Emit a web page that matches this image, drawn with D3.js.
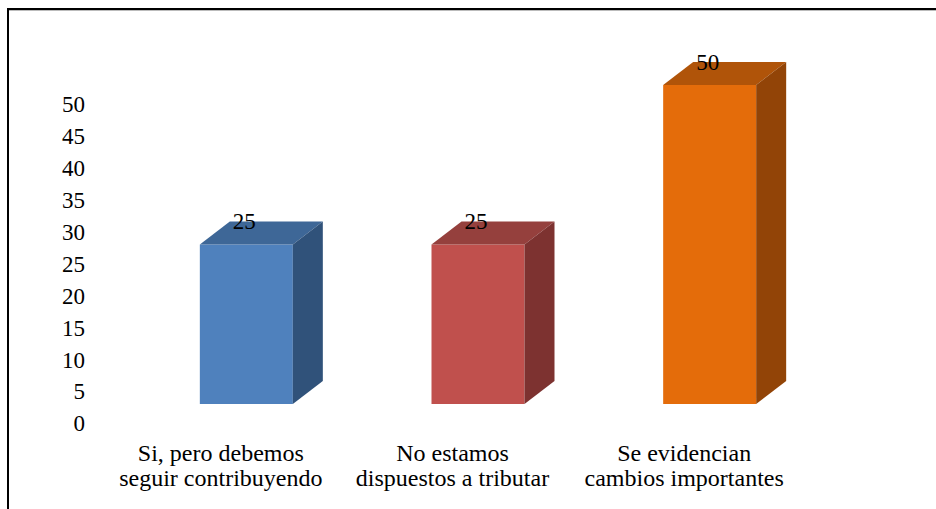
<!DOCTYPE html>
<html>
<head>
<meta charset="utf-8">
<script src="https://cdn.jsdelivr.net/npm/d3@7"></script>
<style>
html,body{margin:0;padding:0;background:#fff;}
svg{display:block;}
</style>
</head>
<body>
<script>
const categories = [["Si, pero debemos","seguir contribuyendo"],["No estamos","dispuestos a tributar"],["Se evidencian","cambios importantes"]];
const values = [25, 25, 50];
const yTicks = [0,5,10,15,20,25,30,35,40,45,50];
const frontColors = ["#4F81BD","#C0504D","#E46C0A"];
const topColors = ["#3E6797","#95403D","#B05409"];
const sideColors = ["#30527A","#7D3230","#924407"];

const FONT = "'Liberation Serif', 'Times New Roman', Times, Tinos, 'Nimbus Roman', 'Nimbus Roman No9 L', FreeSerif, 'Noto Serif', 'DejaVu Serif', serif";
const W = 936, H = 509;
const svg = d3.select("body").append("svg").attr("width", W).attr("height", H);

// border
svg.append("rect").attr("x",7).attr("y",8).attr("width",W-7).attr("height",2).attr("fill","#000");
svg.append("rect").attr("x",7).attr("y",10).attr("width",W-7).attr("height",1).attr("fill","#bbb");
svg.append("rect").attr("x",7).attr("y",8).attr("width",2).attr("height",H-8).attr("fill","#000");

const keys = categories.map((c,i)=>i);
const x = d3.scaleBand().domain(keys).range([105, 800]);
const y = d3.scaleLinear().domain([0,50]).range([404, 85]);
const depthX = 30, depthY = 23, frontW = 93, frontOff = 21;
const labelShift = 19;

// y axis (labels only)
const yAxis = d3.axisLeft(y).tickValues(yTicks).tickSize(0).tickPadding(0);
const ag = svg.append("g").attr("transform",`translate(85,${labelShift})`).call(yAxis);
ag.select(".domain").remove();
ag.attr("font-family", null).attr("font-size", null);
ag.selectAll("text").style("font-family",FONT).style("font-size","23px").attr("fill","#000").attr("dy","0.34em");

// bars
const bars = svg.append("g").selectAll("g").data(values).join("g");
bars.each(function(v,i){
  const g = d3.select(this);
  const x0 = x(i) + x.bandwidth()/2 - frontOff, x1 = x0 + frontW;
  const yT = y(v), yB = y(0);
  g.append("rect").attr("x",x0).attr("y",yT).attr("width",frontW).attr("height",yB-yT).attr("fill",frontColors[i]);
  g.append("path").attr("d",`M${x0},${yT}L${x0+depthX},${yT-depthY}L${x1+depthX},${yT-depthY}L${x1},${yT}Z`).attr("fill",topColors[i]);
  g.append("path").attr("d",`M${x1},${yT}L${x1+depthX},${yT-depthY}L${x1+depthX},${yB-depthY}L${x1},${yB}Z`).attr("fill",sideColors[i]);
  g.append("text").attr("x",x0+frontW/2-2).attr("y",yT-depthY).attr("dy","0.34em")
    .attr("text-anchor","middle").style("font-family",FONT).style("font-size","23px").attr("fill","#000").text(v);
});

// category labels
const cg = svg.append("g").selectAll("text").data(categories).join("text")
  .attr("text-anchor","middle").style("font-family",FONT).style("font-size","24px").attr("fill","#000");
cg.each(function(lines,i){
  const t = d3.select(this);
  lines.forEach((ln,k)=>{
    t.append("tspan").attr("x", x(i)+x.bandwidth()/2).attr("y", 461 + k*25).text(ln);
  });
});
</script>
</body>
</html>
